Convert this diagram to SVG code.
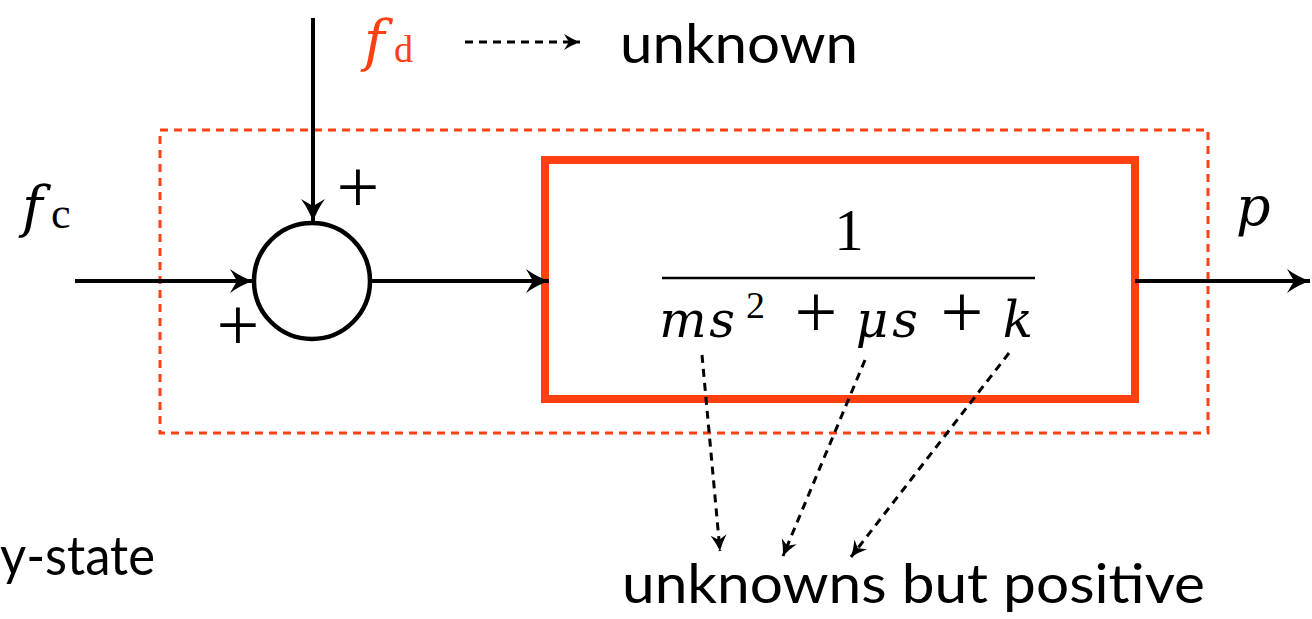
<svg xmlns="http://www.w3.org/2000/svg" width="1312" height="619" viewBox="0 0 1312 619">
<style>
.conn{stroke:#000;stroke-width:4;fill:none}
.dot{stroke:#000;stroke-width:3;fill:none;stroke-dasharray:8 6}
.it{font-family:"DejaVu Serif",serif;font-style:italic}
.rm{font-family:"Liberation Serif","Times New Roman",serif;font-style:normal}
.sans{font-family:Lato,"Open Sans",sans-serif;fill:#000}
</style>
<defs>
<marker id="ah" viewBox="-24 -12 26 24" refX="0" refY="0" markerWidth="26" markerHeight="24" markerUnits="userSpaceOnUse" orient="auto">
<path d="M0,0 Q-12,-4 -23,-12 L-16,0 L-23,12 Q-12,4 0,0 Z" fill="#000"/>
</marker>
<marker id="ahs" viewBox="-17 -9 19 18" refX="0" refY="0" markerWidth="19" markerHeight="18" markerUnits="userSpaceOnUse" orient="auto">
<path d="M0,0 Q-8,-3 -16,-8 L-11,0 L-16,8 Q-8,3 0,0 Z" fill="#000"/>
</marker>
</defs>
<rect width="1312" height="619" fill="#fff"/>
<g id="boundary">
<rect x="160" y="130" width="1048" height="303" fill="none" stroke="#FF4013" stroke-width="3" stroke-dasharray="8 6"/>
</g>
<g id="plant">
<rect x="545" y="160" width="590" height="239" fill="none" stroke="#FF4013" stroke-width="8"/>
<text class="rm" x="849" y="250" font-size="59" text-anchor="middle" fill="#000">1</text>
<line x1="662" y1="278" x2="1035" y2="278" stroke="#000" stroke-width="2.5"/>
<g fill="#000">
<text class="it" x="683" y="337" font-size="50" text-anchor="middle">m</text>
<text class="it" x="722" y="337" font-size="50" text-anchor="middle">s</text>
<text class="rm" x="746" y="318" font-size="38">2</text>
<text class="rm" x="816" y="337" font-size="76" text-anchor="middle">+</text>
<text class="it" x="872" y="337" font-size="50" text-anchor="middle">μ</text>
<text class="it" x="905" y="337" font-size="50" text-anchor="middle">s</text>
<text class="rm" x="962" y="337" font-size="76" text-anchor="middle">+</text>
<text class="it" x="1018" y="337" font-size="50" text-anchor="middle">k</text>
</g>
</g>
<g id="sum">
<circle cx="312" cy="281" r="58" fill="#fff" stroke="#000" stroke-width="4.5"/>
<text class="rm" x="358" y="212" font-size="76" text-anchor="middle" fill="#000">+</text>
<text class="rm" x="238" y="350" font-size="76" text-anchor="middle" fill="#000">+</text>
</g>
<g id="labels">
<text class="it" x="22" y="226" font-size="56" fill="#000">f</text>
<text class="rm" x="51" y="228" font-size="44" fill="#000">c</text>
<text class="it" x="1236" y="225" font-size="54" fill="#000">p</text>
<text class="it" x="364" y="60" font-size="56" fill="#FF4013">f</text>
<text class="rm" x="394" y="62" font-size="38" fill="#FF4013">d</text>
<text class="sans" x="620" y="63" font-size="54" textLength="238" lengthAdjust="spacingAndGlyphs">unknown</text>
<text class="sans" x="0" y="575" font-size="54" textLength="155" lengthAdjust="spacingAndGlyphs">y-state</text>
<text class="sans" x="622" y="603" font-size="54" textLength="583" lengthAdjust="spacingAndGlyphs">unknowns but positive</text>
</g>
<g id="connectors">
<line class="conn" x1="313" y1="18" x2="313" y2="222" marker-end="url(#ah)"/>
<line class="conn" x1="75" y1="281" x2="253" y2="281" marker-end="url(#ah)"/>
<line class="conn" x1="371" y1="281" x2="549" y2="281" marker-end="url(#ah)"/>
<line class="conn" x1="1135" y1="281" x2="1310" y2="281" marker-end="url(#ah)"/>
<line class="dot" x1="465" y1="42" x2="580" y2="42" marker-end="url(#ahs)"/>
<line class="dot" x1="702" y1="355" x2="720" y2="551" marker-end="url(#ahs)"/>
<line class="dot" x1="865" y1="360" x2="783" y2="556" marker-end="url(#ahs)"/>
<line class="dot" x1="1009" y1="353" x2="851" y2="557" marker-end="url(#ahs)"/>
</g>
</svg>
